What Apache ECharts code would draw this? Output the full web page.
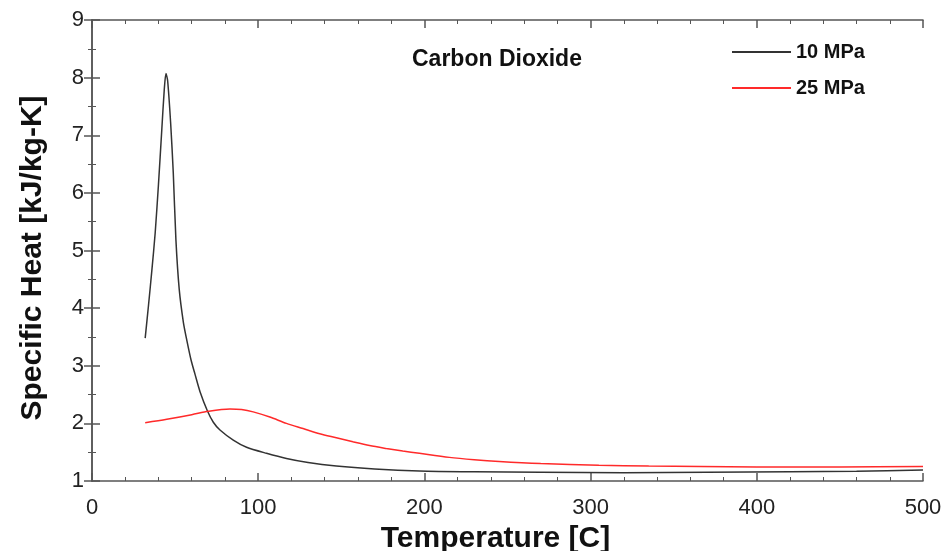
<!DOCTYPE html>
<html><head><meta charset="utf-8">
<script src="https://cdn.jsdelivr.net/npm/echarts@6/dist/echarts.min.js"></script>
<style>html,body{margin:0;padding:0;background:#fff}#c{width:947px;height:551px}</style>
</head><body><div id="c"></div>
<script>
const seriesNames = ['10 MPa', '25 MPa'];
const temp10 = [32, 34, 36, 38, 40, 42, 43.5, 44.5, 45.5, 47.3, 48.9, 50.5, 52.5, 55, 57, 59.6, 62, 65, 69.4, 73, 77, 85, 93, 105, 117, 130, 147, 170, 197, 230, 270, 320, 370, 420, 460, 500];
const cp10 =   [3.48, 4.05, 4.65, 5.3, 6.15, 7.1, 7.8, 8.07, 7.95, 7.22, 6.35, 5.18, 4.32, 3.75, 3.45, 3.1, 2.85, 2.55, 2.22, 2.02, 1.885, 1.71, 1.585, 1.48, 1.39, 1.32, 1.26, 1.21, 1.175, 1.16, 1.15, 1.145, 1.15, 1.16, 1.17, 1.19];
const temp25 = [32, 45, 60, 70, 83, 90, 97, 107, 117, 127, 137, 147, 157, 167, 177, 187, 197, 215, 230, 245, 270, 305, 335, 366, 400, 450, 500];
const cp25 =   [2.01, 2.07, 2.15, 2.21, 2.25, 2.24, 2.20, 2.11, 2.0, 1.91, 1.82, 1.75, 1.68, 1.615, 1.565, 1.52, 1.48, 1.41, 1.37, 1.34, 1.305, 1.275, 1.26, 1.25, 1.245, 1.245, 1.25];
const xTicks = [0, 100, 200, 300, 400, 500];
const yTicks = [1, 2, 3, 4, 5, 6, 7, 8, 9];
const titleText = 'Carbon Dioxide';
const xName = 'Temperature [C]';
const yName = 'Specific Heat [kJ/kg-K]';

const FONT = '"Liberation Sans", Arial, sans-serif';
const axisColor = '#555';
const zip = (a, b) => a.map((v, i) => [v, b[i]]);
const axisLine = {show: true, lineStyle: {color: axisColor, width: 1.5}};
const axisTick = {show: true, inside: true, length: 8, lineStyle: {color: axisColor, width: 1.5}};
const splitLine = {show: false};
const chart = echarts.init(document.getElementById('c'));
chart.setOption({
  animation: false,
  backgroundColor: '#fff',
  title: {text: titleText, left: 412, top: 48, padding: 0, textStyle: {fontFamily: FONT, fontSize: 23, fontWeight: 'bold', color: '#111'}},
  legend: {
    data: seriesNames, orient: 'vertical', left: 732, top: 42, padding: 0,
    icon: 'rect', itemWidth: 59, itemHeight: 2, itemGap: 16,
    textStyle: {fontFamily: FONT, fontSize: 20, fontWeight: 'bold', color: '#111'}
  },
  grid: {left: 92, right: 24, top: 20, bottom: 70, containLabel: false, outerBoundsMode: 'none'},
  xAxis: [
    {
      type: 'value', min: xTicks[0], max: xTicks[xTicks.length - 1], interval: 100,
      name: xName, nameLocation: 'middle', nameGap: 36,
      nameTextStyle: {fontFamily: FONT, fontSize: 30, fontWeight: 'bold', color: '#111', padding: [0, 24, 0, 0]},
      axisLabel: {fontFamily: FONT, fontSize: 22, color: '#222', margin: 16},
      axisLine, axisTick, splitLine,
      minorTick: {show: true, splitNumber: 5, length: 4, lineStyle: {color: axisColor, width: 1}}
    },
    {
      type: 'value', position: 'top', min: 0, max: 500, interval: 100,
      axisLabel: {show: false}, axisLine, axisTick, splitLine,
      minorTick: {show: true, splitNumber: 5, length: 4, lineStyle: {color: axisColor, width: 1}}
    }
  ],
  yAxis: [
    {
      type: 'value', min: yTicks[0], max: yTicks[yTicks.length - 1], interval: 1,
      name: yName, nameLocation: 'middle', nameGap: 44, nameRotate: 90,
      nameTextStyle: {fontFamily: FONT, fontSize: 30, fontWeight: 'bold', color: '#111', padding: [0, 15, 0, 0]},
      axisLabel: {fontFamily: FONT, fontSize: 22, color: '#222', margin: 8},
      axisLine, axisTick, splitLine,
      minorTick: {show: true, splitNumber: 2, length: 4, lineStyle: {color: axisColor, width: 1}}
    },
    {
      type: 'value', position: 'right', min: 1, max: 9, interval: 1,
      axisLabel: {show: false}, axisLine, axisTick, splitLine,
      minorTick: {show: true, splitNumber: 2, length: 4, lineStyle: {color: axisColor, width: 1}}
    }
  ],
  series: [
    {name: seriesNames[0], type: 'line', data: zip(temp10, cp10), showSymbol: false, symbol: 'none', smooth: 0.25,
     lineStyle: {color: '#333', width: 1.5}, itemStyle: {color: '#333'}},
    {name: seriesNames[1], type: 'line', data: zip(temp25, cp25), showSymbol: false, symbol: 'none', smooth: 0.3,
     lineStyle: {color: '#ff2a2a', width: 1.5}, itemStyle: {color: '#ff2a2a'}}
  ]
});
</script></body></html>
